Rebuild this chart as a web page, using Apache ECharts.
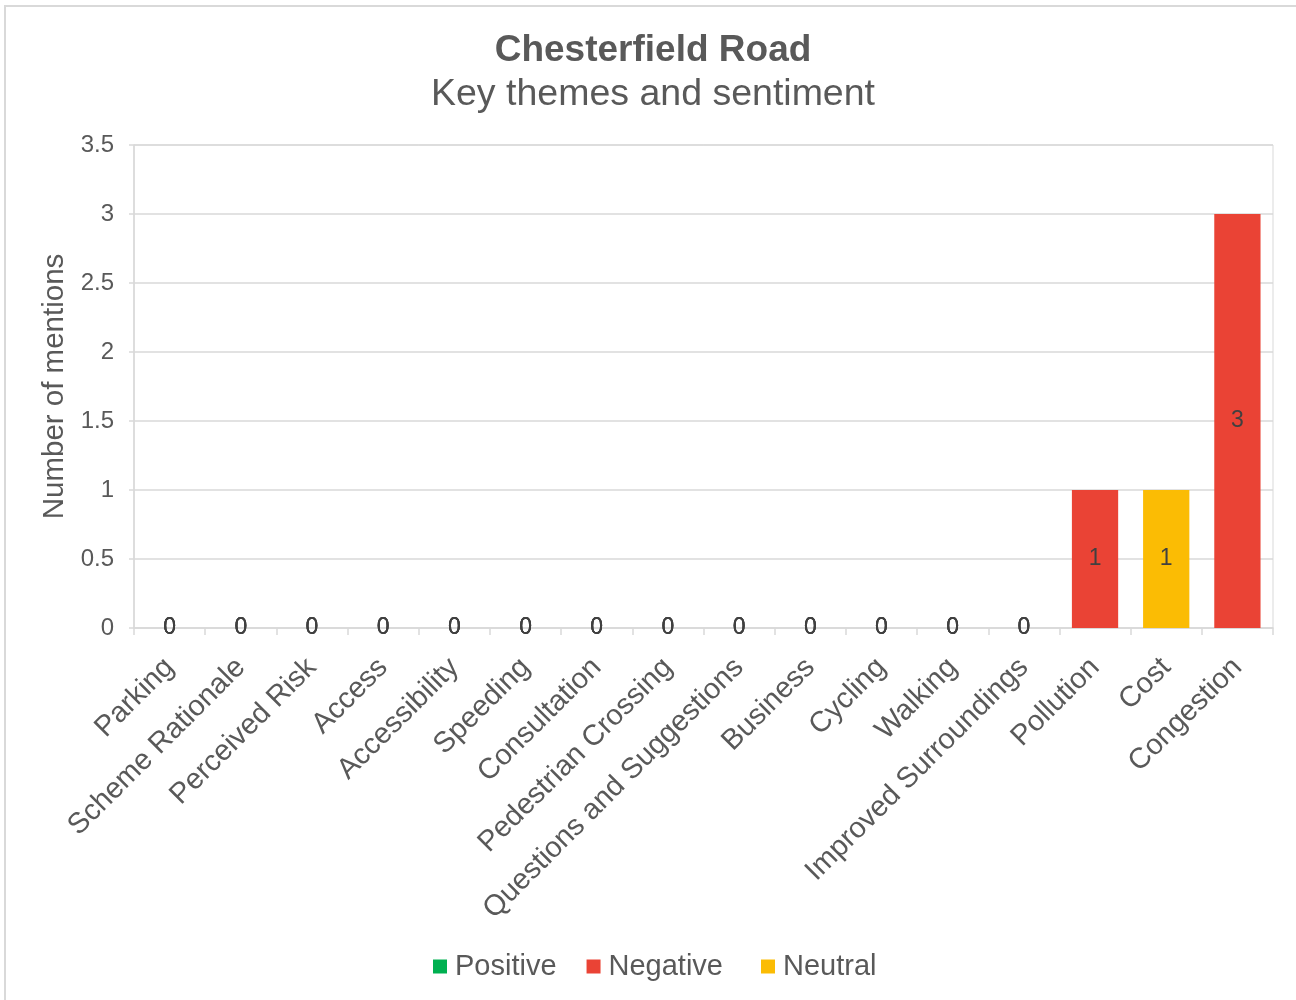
<!DOCTYPE html>
<html>
<head>
<meta charset="utf-8">
<title>Chesterfield Road – Key themes and sentiment</title>
<script src="https://cdn.jsdelivr.net/npm/echarts@6/dist/echarts.min.js"></script>
<style>
  html, body { margin: 0; padding: 0; background: #ffffff; }
  #chart { width: 1296px; height: 1000px; }
</style>
</head>
<body>
<div id="chart"></div>
<script>
// Themes raised about the scheme, in display order
const categories = [
  'Parking', 'Scheme Rationale', 'Perceived Risk', 'Access', 'Accessibility',
  'Speeding', 'Consultation', 'Pedestrian Crossing', 'Questions and Suggestions',
  'Business', 'Cycling', 'Walking', 'Improved Surroundings', 'Pollution', 'Cost', 'Congestion'
];

// Mentions per sentiment (null = no entry for that theme)
const positive = [0, 0, 0, 0, 0, 0, 0, 0, 0, 0, 0, 0, 0, null, null, null];
const negative = [0, 0, 0, 0, 0, 0, 0, 0, 0, 0, 0, 0, 0, 1, null, 3];
const neutral  = [0, 0, 0, 0, 0, 0, 0, 0, 0, 0, 0, 0, 0, null, 1, null];

// Value axis ticks
const yTicks = [0, 0.5, 1, 1.5, 2, 2.5, 3, 3.5];

const FONT = 'Liberation Sans, Arial, Helvetica, sans-serif';
const TEXT = '#595959';
const LINE = '#d9d9d9';

const chart = echarts.init(document.getElementById('chart'), null, { renderer: 'canvas' });

const labelStyle = {
  show: true,
  position: 'inside',
  color: '#404040',
  fontFamily: FONT,
  fontSize: 23,
  formatter: p => String(p.value)
};

function bar(name, data, color) {
  return {
    name: name,
    type: 'bar',
    stack: 'mentions',
    data: data,
    barWidth: '65%',
    itemStyle: { color: color },
    label: labelStyle,
    emphasis: { disabled: true }
  };
}

// Shared legend look; the key is split in two so the last entry sits a little further out
function legendPart(left, names) {
  return {
    top: 947,
    left: left,
    itemWidth: 14,
    itemHeight: 14,
    itemGap: 30,
    icon: 'rect',
    textStyle: { fontFamily: FONT, fontSize: 29, color: TEXT, padding: [0, 0, 0, 3] },
    data: names
  };
}

chart.setOption({
  animation: false,
  backgroundColor: '#ffffff',
  graphic: [{
    type: 'rect',
    shape: { x: 5, y: 6, width: 1400, height: 1200 },
    style: { fill: 'none', stroke: LINE, lineWidth: 2 },
    silent: true
  }],
  title: {
    text: 'Chesterfield Road',
    subtext: 'Key themes and sentiment',
    left: 648,
    textAlign: 'center',
    top: 27,
    itemGap: 7,
    textStyle: { fontFamily: FONT, fontSize: 37, fontWeight: 'bold', color: TEXT },
    subtextStyle: { fontFamily: FONT, fontSize: 37.5, color: TEXT }
  },
  legend: [
    legendPart(428, ['Positive', 'Negative']),
    legendPart(756, ['Neutral'])
  ],
  grid: {
    left: 134,
    right: 23,
    top: 145,
    bottom: 372,
    show: true,
    borderColor: LINE,
    borderWidth: 1,
    containLabel: false
  },
  xAxis: {
    type: 'category',
    data: categories,
    axisLine: { lineStyle: { color: LINE, width: 1.5 } },
    axisTick: { show: true, length: 7, lineStyle: { color: LINE, width: 1.5 } },
    axisLabel: {
      rotate: 45,
      margin: 35,
      interval: 0,
      color: TEXT,
      fontFamily: FONT,
      fontSize: 29
    }
  },
  yAxis: {
    type: 'value',
    min: 0,
    max: yTicks[yTicks.length - 1],
    interval: yTicks[1] - yTicks[0],
    name: 'Number of mentions',
    nameLocation: 'middle',
    nameGap: 64,
    nameTextStyle: { fontFamily: FONT, fontSize: 29.5, color: TEXT },
    axisLine: { show: true, lineStyle: { color: LINE, width: 1.5 } },
    axisTick: { show: true, length: 5, lineStyle: { color: LINE, width: 1.5 } },
    splitLine: { show: true, lineStyle: { color: LINE, width: 1.5 } },
    axisLabel: {
      margin: 20,
      color: TEXT,
      fontFamily: FONT,
      fontSize: 24,
      formatter: v => String(v)
    }
  },
  series: [
    bar('Positive', positive, '#00B050'),
    bar('Negative', negative, '#EA4335'),
    bar('Neutral', neutral, '#FBBC04')
  ]
});
</script>
</body>
</html>
